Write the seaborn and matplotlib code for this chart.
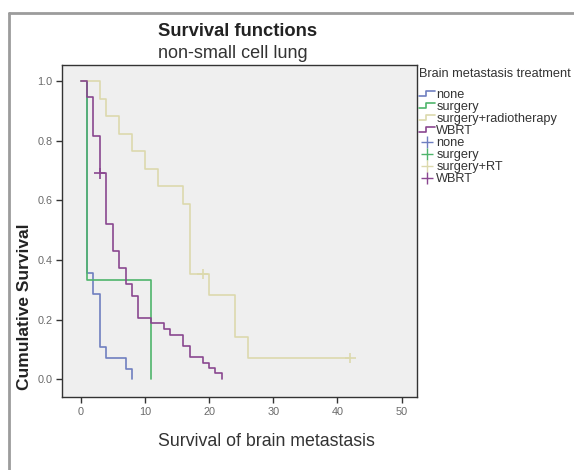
"""Kaplan-Meier style survival functions, non-small cell lung (brain metastasis)."""

import matplotlib

matplotlib.use("Agg")

import matplotlib.pyplot as plt
import numpy as np
import pandas as pd
import seaborn as sns
from matplotlib.legend_handler import HandlerBase
from matplotlib.lines import Line2D

# step curves: time (months) and cumulative survival
none_time = [0, 1, 2, 3, 4, 7, 8]
none_surv = [1.0, 0.357, 0.284, 0.108, 0.072, 0.034, 0.0]

surgery_time = [0, 1, 11]
surgery_surv = [1.0, 0.333, 0.0]

surgrt_time = [0, 3, 4, 6, 8, 10, 12, 16, 17, 20, 24, 26, 42]
surgrt_surv = [1.0, 0.941, 0.882, 0.824, 0.765, 0.706, 0.647, 0.588, 0.353,
               0.282, 0.141, 0.071, 0.071]

wbrt_time = [0, 1, 2, 3, 4, 5, 6, 7, 8, 9, 11, 13, 14, 16, 17, 19, 20, 21, 22]
wbrt_surv = [1.0, 0.945, 0.816, 0.69, 0.522, 0.43, 0.373, 0.318, 0.278, 0.206,
             0.187, 0.167, 0.148, 0.111, 0.073, 0.055, 0.037, 0.019, 0.0]

# censored observations
censor_group = ["surgery+RT", "surgery+RT", "WBRT"]
censor_time = [19, 42, 3]
censor_surv = [0.353, 0.071, 0.69]

GROUPS = ["none", "surgery", "surgery+radiotherapy", "WBRT"]
CENSOR_GROUPS = ["none", "surgery", "surgery+RT", "WBRT"]
COLORS = ["#6f7fc0", "#4fb56c", "#dcd9ad", "#8a4790"]

X_TICKS = [0, 10, 20, 30, 40, 50]
Y_TICKS = [0.0, 0.2, 0.4, 0.6, 0.8, 1.0]

W, H = 574, 470
FONT = "Liberation Sans"


class HandlerStep(HandlerBase):
    """Legend glyph shaped like a small survival step."""

    def create_artists(self, legend, orig_handle, xdescent, ydescent,
                       width, height, fontsize, trans):
        x0, x1 = -xdescent, -xdescent + width
        xm = x0 + width * 0.45
        lo, hi = -ydescent + height * 0.2, -ydescent + height * 0.75
        line = Line2D([x0, xm, xm, x1], [lo, lo, hi, hi],
                      color=orig_handle.get_color(), lw=1.2)
        line.set_transform(trans)
        return [line]


def build_frame() -> pd.DataFrame:
    parts = []
    for name, t, s in zip(
        GROUPS,
        [none_time, surgery_time, surgrt_time, wbrt_time],
        [none_surv, surgery_surv, surgrt_surv, wbrt_surv],
    ):
        parts.append(pd.DataFrame({"group": name, "time": t, "surv": s}))
    return pd.concat(parts, ignore_index=True)


df = build_frame()
df_cens = pd.DataFrame({"group": censor_group, "time": censor_time, "surv": censor_surv})

sns.set_style("ticks")
plt.rcParams["font.family"] = [FONT, "DejaVu Sans"]

fig = plt.figure(figsize=(W / 100, H / 100), dpi=100)
fig.patch.set_facecolor("white")

# gray outer frame
fig.add_artist(Line2D([9 / W, 1], [1 - 13 / H, 1 - 13 / H], color="#9c9c9c", lw=2))
fig.add_artist(Line2D([9 / W, 9 / W], [0, 1 - 13 / H], color="#9c9c9c", lw=2))

left, right, top, bottom = 62, 417, 65, 397
ax = fig.add_axes([left / W, 1 - bottom / H, (right - left) / W, (bottom - top) / H])
ax.set_facecolor("#efefef")

palette = dict(zip(GROUPS, COLORS))
for name in GROUPS:
    sub = df[df["group"] == name]
    sns.lineplot(
        data=sub, x="time", y="surv", ax=ax, color=palette[name],
        drawstyle="steps-post", estimator=None, sort=False, lw=1.2, legend=False,
    )

cens_palette = {"none": COLORS[0], "surgery": COLORS[1], "surgery+RT": COLORS[2], "WBRT": COLORS[3]}
sns.scatterplot(
    data=df_cens, x="time", y="surv", hue="group", palette=cens_palette,
    marker="+", s=60, linewidth=1.2, ax=ax, legend=False,
)

ax.set_xlim(-2.9, 52.4)
ax.set_ylim(-0.06, 1.054)
ax.set_xticks(X_TICKS)
ax.set_yticks(Y_TICKS)
ax.set_yticklabels([f"{v:.1f}" for v in Y_TICKS])
ax.tick_params(axis="both", length=4, width=1, color="#333333",
               labelsize=7.8, labelcolor="#6a6a6a", pad=3)
for sp in ax.spines.values():
    sp.set_color("#333333")
    sp.set_linewidth(1)

ax.set_xlabel("Survival of brain metastasis", fontsize=12.8, color="#333333",
              ha="left", va="baseline")
ax.xaxis.set_label_coords((158 - left) / (right - left), (bottom - 446) / (bottom - top))
ax.set_ylabel("Cumulative Survival", fontsize=12.5, fontweight="bold",
              color="#222222", ha="center", va="center")
ax.yaxis.set_label_coords((24.5 - left) / (right - left), (bottom - 306.5) / (bottom - top))

fig.text(158 / W, 1 - 35.5 / H, "Survival functions", fontsize=13.2,
         fontweight="bold", color="#222222", va="baseline")
fig.text(158 / W, 1 - 58.5 / H, "non-small cell lung", fontsize=13,
         color="#333333", va="baseline")

# legend
fig.text(419 / W, 1 - 74 / H, "Brain metastasis treatment", fontsize=9.2,
         color="#333333", va="center")
step_handles = [Line2D([], [], color=c) for c in COLORS]
cross_handles = [Line2D([], [], color=c, marker="+", markersize=9, lw=0) for c in COLORS]
handler_map = {h: HandlerStep() for h in step_handles}
leg = fig.legend(
    step_handles + cross_handles, GROUPS + CENSOR_GROUPS,
    handler_map=handler_map, loc="upper left",
    bbox_to_anchor=(419 / W, 1 - 89 / H), frameon=False, fontsize=9.2,
    borderpad=0, borderaxespad=0, handlelength=1.25, handletextpad=0.1,
    labelspacing=0.0,
)
for t in leg.get_texts():
    t.set_color("#333333")

fig.savefig("out.png", dpi=100)
